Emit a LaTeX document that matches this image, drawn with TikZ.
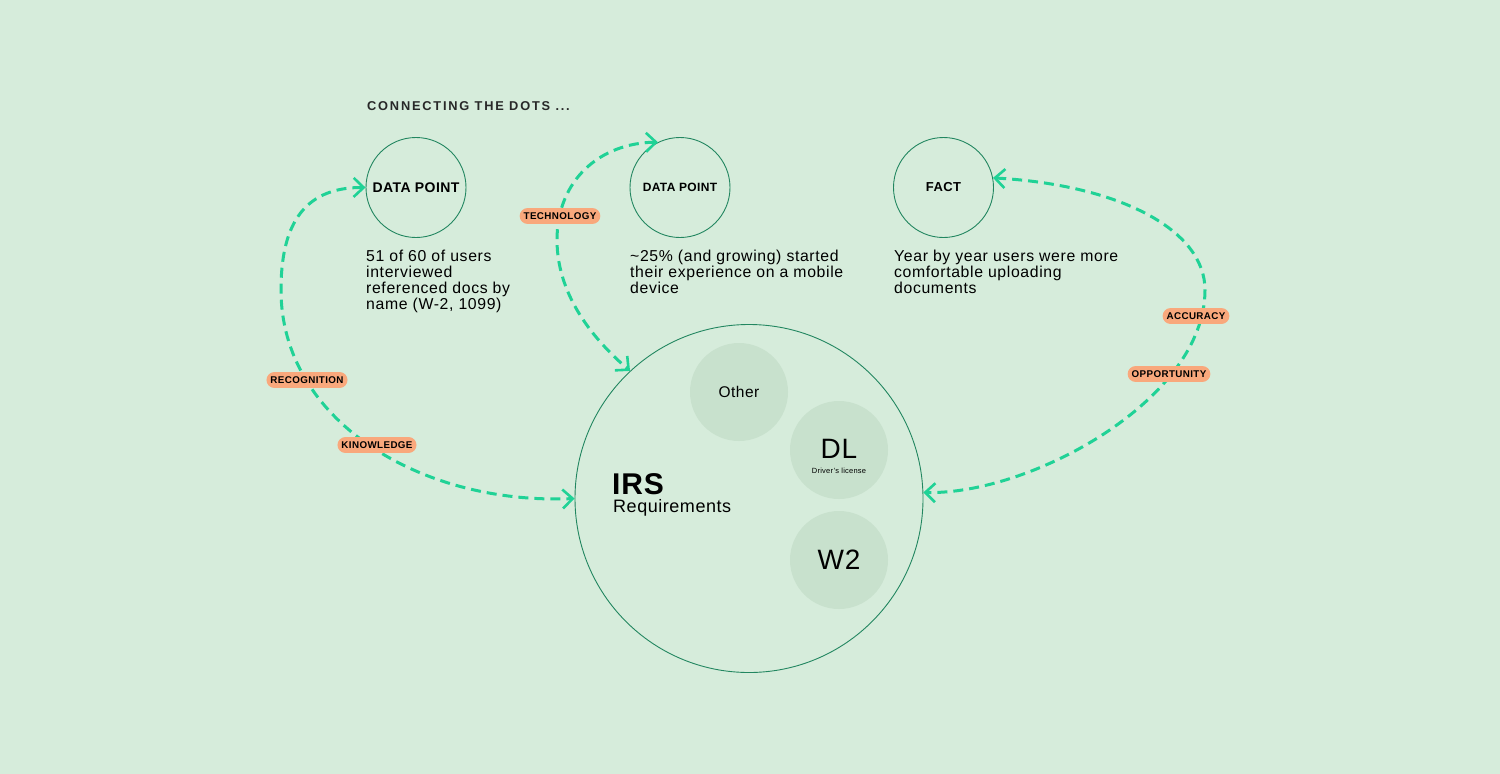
\documentclass[tikz,border=0pt]{standalone}
\usepackage{fontspec}
\setmainfont[LetterSpace=3]{Liberation Sans}
\newfontfamily\spacedfont[LetterSpace=14]{Liberation Sans}
\newfontfamily\tagfont[LetterSpace=4]{Liberation Sans}
\newfontfamily\blurbfont[LetterSpace=4]{Liberation Sans}
\usepackage{tikz}
\usetikzlibrary{arrows.meta, positioning, calc}

\definecolor{bgmint}{RGB}{214,236,219}
\definecolor{ringgreen}{RGB}{34,134,96}
\definecolor{softgreen}{RGB}{200,225,205}
\definecolor{linkteal}{RGB}{32,210,150}
\definecolor{tagorange}{RGB}{249,168,124}
\definecolor{inkgray}{RGB}{40,40,40}

\tikzset{
  dotring/.style={circle, draw=ringgreen, line width=0.9pt, minimum size=100pt, inner sep=0pt},
  subring/.style={circle, fill=softgreen, minimum size=98pt, inner sep=0pt},
  link/.style={draw=linkteal, line width=3pt, dash pattern=on 10pt off 6pt,
    {Straight Barb[length=10pt, width=19pt, line width=2.6pt]}-{Straight Barb[length=10pt, width=19pt, line width=2.6pt]}},
  tag/.style={fill=tagorange, rounded corners=8pt, inner xsep=4pt, inner ysep=4.5pt,
    font=\tagfont\bfseries\fontsize{9.8}{10}\selectfont, text=black},
  blurb/.style={anchor=north west, inner sep=0pt, align=left, text=black,
    font=\blurbfont\fontsize{15.8}{16}\selectfont}
}

\begin{document}
\begin{tikzpicture}[x=1pt, y=-1pt]
  % Background and page size
  \fill[bgmint] (0,0) rectangle (1500,774);
  \useasboundingbox (0,0) rectangle (1500,774);
  % Title
  \node[anchor=base west, inner sep=0pt, text=inkgray, font=\spacedfont\bfseries\fontsize{12.8}{14}\selectfont]
    (title) at (367,110) {CONNECTING THE DOTS ...};
  % Top circles
  \node[dotring, font=\bfseries\fontsize{14}{16}\selectfont] (dp1) at (416,187.5) {DATA POINT};
  \node[dotring, font=\bfseries\fontsize{12}{14}\selectfont] (dp2) at (680,187.5) {DATA POINT};
  \node[dotring, font=\bfseries\fontsize{13}{14}\selectfont] (fact) at (943.5,187.5) {FACT};
  % Notes under the circles
  \node[blurb] (note1) at (366,250) {51 of 60 of users\\interviewed\\referenced docs by\\name (W-2, 1099)};
  \node[blurb] (note2) at (630,250) {\textasciitilde 25\% (and growing) started\\their experience on a mobile\\device};
  \node[blurb] (note3) at (894,250) {Year by year users were more\\comfortable uploading\\documents};
  % Big circle with its documents
  \node[dotring, minimum size=348pt] (irs) at (749,498.5) {};
  \node[subring, font=\fontsize{15.5}{16}\selectfont] (other) at (739,392) {Other};
  \node[subring] (dl) at (839,450) {};
  \node[subring, font=\fontsize{28}{30}\selectfont] (wtwo) at (839,560) {W2};
  \node[anchor=base, inner sep=0pt, font=\fontsize{28}{30}\selectfont] (dlname) at (839,458) {DL};
  \node[anchor=base, inner sep=0pt, font=\fontsize{7.5}{8}\selectfont] (dlsub) at (839,473) {Driver's license};
  \node[anchor=base west, inner sep=0pt, font=\bfseries\fontsize{30}{32}\selectfont] (irstitle) at (612,494) {IRS};
  \node[anchor=base west, inner sep=0pt, font=\fontsize{18}{20}\selectfont] (irssub) at (613,512) {Requirements};
  % Links
  \draw[link] (dp1.west) .. controls (300,187) and (281,230) .. (281,290)
    .. controls (281,420) and (420,505) .. (irs.west);
  \draw[link] (dp2.116) .. controls (600,143) and (557,180) .. (557,240)
    .. controls (557,300) and (600,345) .. (irs.133);
  \draw[link] (fact.11) .. controls (1120,185) and (1205,230) .. (1205,290)
    .. controls (1205,400) and (1030,495) .. (irs.2);
  % Tags on the links
  \node[tag] (recog) at (307,380) {RECOGNITION};
  \node[tag] (know) at (377,445) {KINOWLEDGE};
  \node[tag] (tech) at (560,216) {TECHNOLOGY};
  \node[tag] (accu) at (1196,316) {ACCURACY};
  \node[tag] (oppo) at (1169,374) {OPPORTUNITY};
\end{tikzpicture}
\end{document}
